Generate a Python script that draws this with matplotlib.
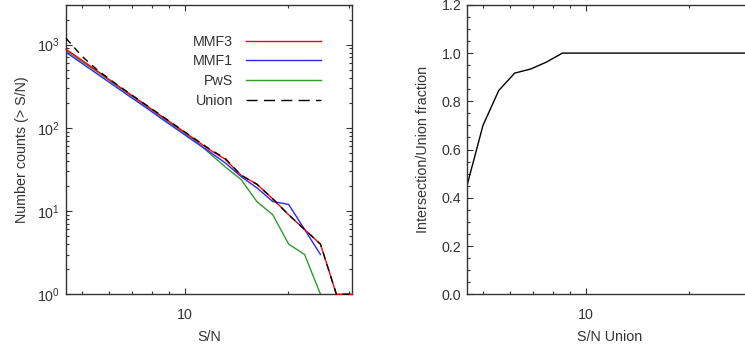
#!/usr/bin/env python

import numpy as np
import matplotlib
matplotlib.use('Agg')
import matplotlib.pyplot as plt
from matplotlib.lines import Line2D
from matplotlib.ticker import NullFormatter, FixedLocator, MultipleLocator, FormatStrFormatter

plt.rcParams['font.family'] = ['Liberation Sans', 'DejaVu Sans']
plt.rcParams['mathtext.default'] = 'regular'
plt.rcParams['font.size'] = 10.3

TXT = '#333333'

# S/N bins
sn = [4.50, 5.01, 5.57, 6.20, 6.90, 7.68, 8.54, 9.50, 10.57, 11.76,
      13.09, 14.56, 16.20, 18.03, 20.06, 22.32, 24.83, 27.63, 30.74]

# cumulative counts N(> S/N)
mmf3 = [878, 647, 477, 347, 255, 188, 138, 102, 75, 55,
        42, 27, 21, 14, 9, 6, 4, 1, 1]
mmf1 = [807, 595, 439, 323, 238, 176, 129, 95, 70, 52,
        38, 26, 19, 13, 12, 6, 3]
pws = [850, 625, 465, 340, 250, 184, 135, 99, 73, 50,
       34, 24, 13, 9, 4, 3, 1]
union = [1190, 723, 490, 352, 258, 190, 140, 103, 76, 56,
         43, 27, 21, 14, 9, 6, 4, 1, 1]

# intersection / union fraction
frac = [0.45, 0.70, 0.845, 0.917, 0.934, 0.963, 1.0, 1.0, 1.0, 1.0,
        1.0, 1.0, 1.0, 1.0, 1.0, 1.0, 1.0, 1.0, 1.0]


def style_axes(ax):
    for s in ax.spines.values():
        s.set_color(TXT)
        s.set_linewidth(1.0)
    ax.tick_params(which='both', direction='in', top=True, right=True,
                   colors=TXT, labelcolor=TXT, width=0.8)
    ax.tick_params(which='major', length=4.5)
    ax.tick_params(which='minor', length=2.5)
    ax.tick_params(axis='x', which='both', pad=10)
    ax.tick_params(axis='y', which='both', pad=4)


fig = plt.figure(figsize=(7.45, 3.47), dpi=100)
ax1 = fig.add_axes([0.0886, 0.152, 0.384, 0.834])
ax2 = fig.add_axes([0.6268, 0.152, 0.384, 0.834])

# left panel
l1, = ax1.plot(sn[:len(mmf3)], mmf3, color='#ff0000', lw=1.0, zorder=4,
               clip_on=False)
l2, = ax1.plot(sn[:len(mmf1)], mmf1, color='#2828ff', lw=1.0, zorder=3)
l3, = ax1.plot(sn[:len(pws)], pws, color='#2e9a2e', lw=1.0, zorder=2)
l4, = ax1.plot(sn[:len(union)], union, color='black', lw=1.0, zorder=5,
               dashes=(5, 4), clip_on=False)
ax1.set_xscale('log')
ax1.set_yscale('log')
ax1.set_xlim(4.5, 30.7)
ax1.set_ylim(1, 3000)
ax1.xaxis.set_major_locator(FixedLocator([10]))
ax1.set_xticklabels(['10'])
ax1.xaxis.set_minor_locator(FixedLocator([5, 6, 7, 8, 9, 20, 30]))
ax1.xaxis.set_minor_formatter(NullFormatter())
style_axes(ax1)
ax1.set_xlabel('S/N', color=TXT, labelpad=6)
ax1.set_ylabel('Number counts (> S/N)', color=TXT, labelpad=6)

h4 = Line2D([], [], color='black', lw=1.0, dashes=(8, 4.5))
leg = ax1.legend([l1, l2, l3, h4], ['MMF3', 'MMF1', 'PwS', 'Union'],
                 loc='upper right', bbox_to_anchor=(0.89, 0.897),
                 frameon=False, markerfirst=False, handlelength=5.2,
                 handletextpad=0.9, labelspacing=0.4, borderpad=0,
                 borderaxespad=0)
for t in leg.get_texts():
    t.set_color(TXT)

# right panel
ax2.plot(sn, frac, color='black', lw=1.0)
ax2.set_xscale('log')
ax2.set_xlim(4.5, 30.7)
ax2.set_ylim(0, 1.2)
ax2.xaxis.set_major_locator(FixedLocator([10]))
ax2.set_xticklabels(['10'])
ax2.xaxis.set_minor_locator(FixedLocator([5, 6, 7, 8, 9, 20, 30]))
ax2.xaxis.set_minor_formatter(NullFormatter())
ax2.yaxis.set_major_locator(MultipleLocator(0.2))
ax2.yaxis.set_minor_locator(MultipleLocator(0.05))
ax2.yaxis.set_major_formatter(FormatStrFormatter('%.1f'))
style_axes(ax2)
ax2.set_xlabel('S/N Union', color=TXT, labelpad=6)
ax2.set_ylabel('Intersection/Union fraction', color=TXT, labelpad=8)

plt.savefig('out.png', dpi=100)
